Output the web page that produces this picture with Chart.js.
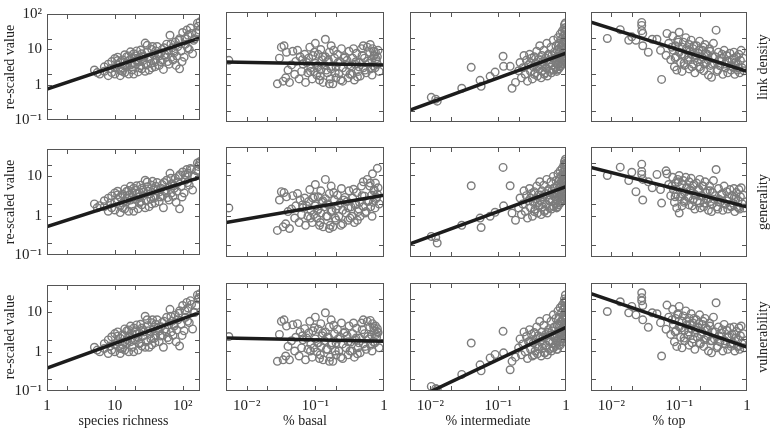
<!DOCTYPE html>
<html>
<head>
<meta charset="utf-8">
<script src="https://cdn.jsdelivr.net/npm/chart.js@4.4.0/dist/chart.umd.min.js"></script>
<style>
html, body { margin: 0; padding: 0; background: #fff; }
#wrap { position: relative; width: 770px; height: 430px; overflow: hidden;
        font-family: 'Liberation Serif', 'DejaVu Serif', serif; color: #222; }
#wrap canvas { position: absolute; }
.lab { position: absolute; white-space: nowrap; font-size: 14px; line-height: 1;
       transform: translate(-50%, -50%); }
.rot { transform: translate(-50%, -50%) rotate(-90deg); }
</style>
</head>
<body>
<div id="wrap"></div>
<script>
// x values, one array per column (shared by the three rows)
const richness = [
  5, 5.5, 6, 7, 7, 8, 8, 8.5, 9, 9,
  10, 10, 10, 11, 11, 12, 12, 12, 13, 13,
  14, 14, 15, 15, 15, 16, 16, 17, 17, 18,
  18, 19, 20, 20, 21, 22, 22, 23, 24, 25,
  25, 26, 27, 28, 29, 30, 30, 32, 33, 35,
  35, 37, 38, 40, 40, 42, 45, 45, 48, 50,
  50, 52, 55, 58, 60, 62, 65, 68, 70, 72,
  75, 78, 80, 85, 90, 90, 95, 100, 105, 110,
  115, 120, 125, 130, 140, 150, 160, 165, 170, 180,
  11, 13, 14, 16, 18, 19, 21, 23, 24, 26,
  28, 31, 34, 36, 39, 43, 47, 53, 57, 63,
  67, 74, 82, 88, 98, 108, 118, 135, 145, 175];
const basal = [
  0.0055, 0.028, 0.03, 0.032, 0.034, 0.035, 0.037, 0.038, 0.04, 0.042,
  0.045, 0.047, 0.05, 0.052, 0.055, 0.058, 0.06, 0.063, 0.066, 0.07,
  0.072, 0.075, 0.078, 0.08, 0.083, 0.086, 0.09, 0.092, 0.095, 0.1,
  0.1, 0.105, 0.11, 0.11, 0.115, 0.12, 0.12, 0.125, 0.13, 0.135,
  0.14, 0.14, 0.15, 0.15, 0.16, 0.16, 0.17, 0.17, 0.18, 0.19,
  0.2, 0.2, 0.21, 0.22, 0.23, 0.24, 0.25, 0.25, 0.27, 0.28,
  0.29, 0.3, 0.31, 0.33, 0.34, 0.35, 0.37, 0.38, 0.4, 0.42,
  0.44, 0.45, 0.47, 0.5, 0.5, 0.52, 0.55, 0.57, 0.6, 0.62,
  0.64, 0.66, 0.68, 0.7, 0.72, 0.75, 0.78, 0.8, 0.82, 0.85,
  0.065, 0.085, 0.097, 0.108, 0.118, 0.128, 0.145, 0.155, 0.165, 0.175,
  0.185, 0.195, 0.215, 0.235, 0.26, 0.3, 0.32, 0.36, 0.39, 0.41,
  0.43, 0.48, 0.53, 0.58, 0.63, 0.67, 0.71, 0.74, 0.77, 0.8];
const intermediate = [
  0.0103, 0.012, 0.0126, 0.029, 0.04, 0.054, 0.056, 0.076, 0.09, 0.118,
  0.12, 0.15, 0.16, 0.18, 0.2, 0.21, 0.22, 0.23, 0.24, 0.25,
  0.26, 0.27, 0.28, 0.29, 0.3, 0.31, 0.32, 0.33, 0.34, 0.35,
  0.36, 0.37, 0.38, 0.39, 0.4, 0.41, 0.42, 0.43, 0.44, 0.45,
  0.46, 0.47, 0.48, 0.5, 0.51, 0.52, 0.53, 0.55, 0.56, 0.57,
  0.58, 0.6, 0.61, 0.62, 0.63, 0.65, 0.66, 0.67, 0.68, 0.7,
  0.71, 0.72, 0.73, 0.74, 0.75, 0.76, 0.77, 0.78, 0.79, 0.8,
  0.81, 0.82, 0.83, 0.84, 0.85, 0.86, 0.87, 0.88, 0.89, 0.9,
  0.91, 0.92, 0.93, 0.94, 0.95, 0.96, 0.97, 0.98, 0.99, 0.99,
  0.3, 0.34, 0.38, 0.42, 0.45, 0.49, 0.54, 0.59, 0.64, 0.69,
  0.72, 0.75, 0.78, 0.8, 0.82, 0.84, 0.86, 0.88, 0.9, 0.91,
  0.92, 0.93, 0.94, 0.95, 0.96, 0.97, 0.97, 0.98, 0.98, 0.99];
const top_ = [
  0.0087, 0.0135, 0.018, 0.02, 0.023, 0.028, 0.028, 0.028, 0.029, 0.029,
  0.035, 0.04, 0.047, 0.053, 0.055, 0.064, 0.066, 0.07, 0.075, 0.08,
  0.082, 0.085, 0.088, 0.09, 0.092, 0.095, 0.1, 0.1, 0.105, 0.11,
  0.11, 0.115, 0.12, 0.12, 0.125, 0.13, 0.135, 0.14, 0.14, 0.15,
  0.15, 0.16, 0.16, 0.17, 0.17, 0.18, 0.19, 0.2, 0.2, 0.21,
  0.22, 0.23, 0.24, 0.25, 0.26, 0.27, 0.28, 0.29, 0.3, 0.31,
  0.32, 0.33, 0.35, 0.36, 0.38, 0.4, 0.42, 0.44, 0.46, 0.48,
  0.5, 0.52, 0.54, 0.56, 0.58, 0.6, 0.62, 0.64, 0.66, 0.68,
  0.7, 0.72, 0.74, 0.76, 0.78, 0.8, 0.82, 0.85, 0.88, 0.9,
  0.078, 0.087, 0.097, 0.108, 0.118, 0.128, 0.138, 0.145, 0.155, 0.165,
  0.175, 0.185, 0.195, 0.205, 0.215, 0.225, 0.235, 0.245, 0.265, 0.285,
  0.305, 0.34, 0.37, 0.39, 0.43, 0.47, 0.51, 0.57, 0.65, 0.75];

// link density (row 1)
const ldRichness = [
  2.6, 2.2, 2.0, 3.2, 2.4, 1.8, 3.8, 2.8, 2.2, 4.5,
  3.0, 5.5, 2.0, 3.6, 6.0, 2.5, 4.3, 1.8, 5.0, 3.0,
  7.0, 2.2, 4.0, 6.2, 3.2, 2.0, 4.8, 8.5, 3.6, 5.5,
  2.6, 7.5, 3.8, 6.5, 9.0, 4.5, 2.3, 5.8, 3.4, 7.5,
  2.8, 4.8, 6.0, 15, 3.6, 8.5, 13, 2.6, 5.5, 10,
  3.0, 7.0, 4.2, 9.0, 5.0, 12, 6.5, 3.5, 8, 10,
  5, 2.7, 7, 14, 4.5, 9, 25, 6, 11, 5,
  8, 16, 3.5, 12, 2.8, 20, 9, 30, 6, 14,
  35, 25, 10, 40, 7.5, 20, 30, 55, 45, 60,
  4.8, 2.4, 3.4, 6.5, 4.0, 2.0, 5.0, 3.0, 9.5, 6.5,
  2.4, 6.0, 4.0, 12, 3.2, 7.5, 4.5, 11, 6, 3.8,
  14, 9, 6.5, 18, 4.5, 20, 11, 28, 18, 35];
const ldBasal = [
  4.8, 1.1, 5.5, 11, 1.3, 12, 1.6, 8, 2.6, 1.2,
  3.6, 8.5, 2.0, 4.5, 9, 1.5, 6, 2.4, 3.8, 7,
  1.2, 4.2, 2.2, 5.5, 11, 3.0, 1.5, 6.5, 2.4, 4.0,
  14, 1.9, 7, 3.2, 1.4, 9.5, 2.6, 5, 1.2, 3.6,
  18, 6, 2.2, 4.4, 1.1, 8, 2.8, 12, 1.1, 5.5,
  3.2, 1.6, 7, 2.1, 4.5, 10, 1.3, 3.0, 6, 2.4,
  4.8, 1.6, 8.5, 3.4, 2.0, 5.5, 1.4, 3.8, 7.5, 2.4,
  4.2, 1.8, 10, 3.0, 12, 5.5, 2.2, 11, 4.0, 8,
  2.8, 5.0, 10, 3.4, 6.5, 8, 4.5, 3.8, 9, 2.4,
  5, 2.4, 8, 3.5, 1.8, 6, 2.6, 4.8, 1.5, 3.3,
  9, 2.2, 4.2, 1.4, 5.5, 3.6, 2.0, 10, 4.4, 1.7,
  3.2, 6.5, 2.6, 4.6, 13, 1.9, 8.5, 3.0, 5.2, 6];
const ldIntermediate = [
  0.47, 0.42, 0.37, 0.83, 3.1, 1.37, 0.94, 1.76, 2.3, 6.2,
  3.3, 3.3, 0.83, 1.2, 2.5, 4.2, 1.6, 3.0, 6.5, 2.0,
  4.8, 1.3, 3.6, 7.0, 2.4, 5.5, 1.5, 3.2, 6.0, 2.2,
  4.0, 8.5, 1.8, 5.0, 2.8, 12, 3.6, 1.6, 6.5, 2.5,
  4.5, 9, 2.0, 5.5, 3.0, 14, 1.8, 7, 3.8, 2.4,
  5.0, 11, 2.2, 6.5, 3.6, 17, 2.6, 8, 4.5, 3.0,
  12, 5.5, 2.4, 9, 3.8, 20, 6, 2.8, 14, 4.5,
  8, 25, 3.4, 11, 5.5, 18, 7, 30, 4.0, 13,
  22, 6, 35, 9, 45, 15, 28, 50, 20, 38,
  4.2, 2.0, 3.2, 5.0, 3.5, 2.2, 6.5, 4.0, 2.7, 5.5,
  4.0, 2.6, 9.5, 6.0, 3.2, 4.4, 12, 5.5, 8, 3.8,
  16, 11, 4.6, 6.5, 24, 10, 5.0, 32, 14, 8];
const ldTop = [
  19, 33, 17, 21, 17, 52, 43, 31, 26, 12,
  8, 18, 18, 9, 1.45, 6.6, 26, 14, 5, 22,
  9, 3.2, 12, 6, 2.6, 17, 8, 28, 4.2, 11,
  2.4, 15, 6.5, 3.5, 20, 9, 4.8, 13, 2.8, 7,
  17, 3.8, 10, 5.5, 2.2, 12, 7.5, 3.2, 16, 5,
  9, 2.5, 13, 4.2, 7, 1.9, 10, 3.5, 1.65, 6,
  14, 4.0, 32, 2.4, 8, 3.4, 5.5, 2.0, 9, 3.0,
  6.5, 2.2, 4.5, 7.5, 2.6, 5, 3.2, 8, 2.0, 4.2,
  6, 2.6, 3.6, 7, 2.2, 4.8, 9, 3.0, 5.5, 2.5,
  11, 5.5, 15, 7, 4.0, 10, 5.8, 8.5, 3.2, 12,
  6.5, 4.4, 9, 2.8, 6, 11, 3.8, 7.5, 5.0, 8.5,
  3.8, 6, 2.6, 4.8, 7, 3.8, 4.6, 3.4, 5.5, 3.0];

// generality (row 2)
const genRichness = [
  2.0, 1.6, 1.8, 2.4, 1.7, 1.3, 2.8, 2.1, 1.6, 3.2,
  2.2, 3.8, 1.4, 2.6, 4.2, 1.8, 3.0, 1.2, 3.5, 2.1,
  4.8, 1.5, 2.8, 4.2, 2.3, 1.3, 3.3, 5.6, 2.5, 3.8,
  1.8, 5.0, 2.6, 4.4, 5.8, 3.0, 1.5, 3.9, 2.3, 5.0,
  1.9, 3.2, 4.0, 8.0, 2.4, 5.5, 7.2, 1.7, 3.6, 6.0,
  2.0, 4.5, 2.8, 5.6, 3.2, 7.0, 4.0, 2.3, 5.0, 6.2,
  3.2, 1.6, 4.4, 8.0, 2.9, 5.5, 12, 3.8, 6.5, 3.1,
  5.0, 9.0, 2.2, 7.0, 1.5, 11, 5.5, 13, 3.8, 8.0,
  15, 12, 6.0, 16, 4.5, 10, 14, 22, 18, 24,
  3.4, 1.6, 2.4, 4.4, 2.9, 1.3, 3.6, 2.1, 6.0, 4.5,
  1.6, 4.2, 2.7, 7.5, 2.1, 4.8, 3.0, 7.0, 3.9, 2.5,
  9.0, 5.8, 4.2, 10, 3.0, 11, 7.0, 15, 10, 20];
const genBasal = [
  1.6, 0.45, 2.5, 4.0, 0.55, 3.8, 0.65, 3.0, 1.3, 0.5,
  1.5, 3.2, 0.9, 1.8, 3.6, 0.7, 2.5, 1.1, 1.6, 2.8,
  0.6, 1.8, 1.0, 2.3, 4.5, 1.4, 0.7, 2.8, 1.1, 1.8,
  6, 0.9, 3.0, 1.5, 0.6, 4.2, 1.2, 2.2, 0.55, 1.7,
  8, 2.7, 1.0, 2.0, 0.5, 3.6, 1.3, 5.5, 0.55, 2.5,
  1.5, 0.8, 3.3, 1.0, 2.1, 4.8, 0.65, 1.4, 2.9, 1.2,
  2.3, 0.8, 4.2, 1.7, 1.0, 2.8, 0.7, 1.9, 3.8, 1.3,
  2.2, 1.0, 5.5, 1.7, 7, 3.1, 1.3, 8, 2.4, 5.5,
  1.7, 3.3, 11, 2.2, 4.5, 6.5, 2.9, 15, 5, 2.0,
  1.9, 0.9, 3.0, 1.4, 0.7, 2.4, 1.0, 1.9, 0.6, 1.4,
  3.8, 0.9, 1.8, 0.6, 2.5, 1.6, 0.9, 4.6, 2.0, 0.8,
  1.5, 3.2, 1.2, 2.3, 6.5, 1.0, 4.2, 1.6, 2.7, 3.5];
const genIntermediate = [
  0.32, 0.3, 0.22, 0.6, 5.6, 0.9, 0.53, 1.0, 1.25, 15.8,
  1.8, 5.6, 1.2, 0.8, 1.6, 2.8, 1.1, 2.0, 4.2, 1.3,
  3.2, 0.9, 2.4, 4.8, 1.6, 3.6, 1.0, 2.2, 4.0, 1.5,
  2.7, 5.5, 1.2, 3.3, 1.9, 7, 2.4, 1.1, 4.2, 1.7,
  3.0, 5.8, 1.3, 3.6, 2.0, 8, 1.2, 4.5, 2.5, 1.6,
  3.3, 7, 1.5, 4.2, 2.4, 9.5, 1.7, 5.0, 3.0, 2.0,
  7.5, 3.6, 1.6, 5.5, 2.5, 11, 3.9, 1.9, 8, 3.0,
  5.0, 13, 2.3, 6.5, 3.6, 10, 4.5, 15, 2.7, 7.5,
  12, 4.0, 18, 5.5, 22, 8.5, 14, 25, 11, 19,
  2.8, 1.3, 2.1, 3.3, 2.2, 1.4, 4.2, 2.6, 1.8, 3.6,
  2.6, 1.7, 6.0, 4.0, 2.1, 2.9, 7.5, 3.6, 5.2, 2.5,
  10, 7, 3.0, 4.2, 16, 6.5, 3.2, 20, 9, 5.2];
const genTop = [
  10, 16, 7.5, 12, 4, 19, 12.6, 10.6, 2.5, 8,
  7, 5, 10.6, 4.5, 2.1, 13, 11, 6, 3.2, 9,
  4.5, 2.2, 6.5, 3.5, 1.6, 8, 1.2, 10, 3.0, 6,
  1.8, 7.5, 3.8, 2.4, 9, 5, 2.9, 7, 1.9, 4.2,
  8.5, 2.5, 5.5, 3.4, 1.5, 6.5, 4.4, 2.1, 8, 3.2,
  5.5, 1.7, 7, 2.7, 4.2, 1.4, 5.5, 2.3, 1.3, 3.8,
  7.5, 2.6, 14, 1.7, 4.8, 2.2, 3.4, 1.4, 5.5, 2.0,
  4.0, 1.5, 2.9, 4.5, 1.7, 3.2, 2.1, 4.8, 1.3, 2.7,
  3.8, 1.7, 2.4, 4.5, 1.5, 3.0, 5, 2.0, 3.3, 1.6,
  5.5, 3.0, 7, 3.6, 2.2, 5.0, 3.0, 4.4, 1.8, 6,
  3.3, 2.4, 4.6, 1.6, 3.1, 5.5, 2.1, 3.8, 2.6, 4.2,
  2.0, 3.2, 1.5, 2.6, 3.6, 2.0, 2.4, 1.8, 2.9, 1.6];

// vulnerability (row 3)
const vulRichness = [
  1.3, 1.1, 1.0, 1.6, 1.2, 0.9, 2.0, 1.4, 1.1, 2.4,
  1.5, 2.9, 1.0, 1.8, 3.2, 1.2, 2.2, 0.9, 2.7, 1.5,
  3.8, 1.1, 2.0, 3.4, 1.6, 1.0, 2.5, 4.5, 1.8, 2.9,
  1.3, 4.0, 2.0, 3.4, 4.8, 2.3, 1.1, 3.0, 1.7, 4.0,
  1.4, 2.5, 3.2, 8.0, 1.8, 4.6, 6.5, 1.3, 2.9, 5.5,
  1.5, 3.8, 2.2, 5.0, 2.6, 6.5, 3.4, 1.8, 4.3, 5.6,
  2.6, 1.3, 3.8, 7.5, 2.3, 4.8, 12, 3.2, 6.0, 2.6,
  4.5, 8.5, 1.8, 6.5, 1.4, 11, 5.0, 15, 3.4, 7.5,
  18, 13, 5.5, 20, 3.8, 10, 15, 28, 22, 30,
  2.5, 1.2, 1.8, 3.6, 2.2, 1.0, 2.8, 1.6, 5.0, 3.6,
  1.3, 3.4, 2.1, 6.5, 1.7, 4.0, 2.5, 6.0, 3.2, 2.0,
  8.0, 5.0, 3.6, 9.5, 2.6, 11, 6.0, 16, 10, 24];
const vulBasal = [
  2.3, 0.55, 2.6, 5.5, 0.6, 6, 0.75, 4.2, 1.3, 0.6,
  1.8, 4.5, 1.0, 2.2, 4.8, 0.75, 3.0, 1.2, 1.9, 3.6,
  0.6, 2.1, 1.1, 2.8, 5.5, 1.5, 0.7, 3.2, 1.2, 2.0,
  7, 0.95, 3.5, 1.6, 0.65, 4.8, 1.3, 2.4, 0.6, 1.8,
  9, 3.0, 1.1, 2.2, 0.55, 4.0, 1.4, 6, 0.55, 2.7,
  1.6, 0.8, 3.5, 1.0, 2.2, 5, 0.65, 1.5, 3.0, 1.2,
  2.4, 0.8, 4.2, 1.7, 1.0, 2.7, 0.7, 1.9, 3.7, 1.2,
  2.1, 0.9, 5, 1.5, 6, 2.7, 1.1, 5.5, 2.0, 4.0,
  1.4, 2.5, 4.8, 1.7, 3.2, 4.2, 2.2, 3.6, 2.9, 1.2,
  2.4, 1.0, 3.8, 1.6, 0.8, 2.8, 1.1, 2.2, 0.7, 1.6,
  4.4, 1.0, 2.0, 0.7, 2.8, 1.7, 1.0, 5.0, 2.1, 0.85,
  1.6, 3.4, 1.3, 2.3, 5.8, 1.0, 3.8, 1.6, 2.6, 3.0];
const vulIntermediate = [
  0.13, 0.115, 0.11, 0.26, 1.58, 0.45, 0.32, 0.67, 0.82, 3.1,
  0.9, 0.34, 0.55, 0.7, 1.2, 2.0, 0.8, 1.5, 3.0, 0.95,
  2.3, 0.65, 1.7, 3.4, 1.1, 2.6, 0.75, 1.6, 2.9, 1.0,
  2.0, 4.0, 0.85, 2.4, 1.3, 5.5, 1.7, 0.75, 3.0, 1.2,
  2.2, 4.4, 0.9, 2.6, 1.4, 6.5, 0.8, 3.4, 1.8, 1.1,
  2.5, 5.5, 1.0, 3.2, 1.6, 8, 1.2, 4.0, 2.1, 1.4,
  6.5, 2.7, 1.1, 4.5, 1.8, 10, 3.0, 1.4, 7, 2.2,
  4.2, 12, 1.7, 5.5, 2.8, 9, 3.6, 14, 2.0, 6.5,
  11, 3.2, 16, 4.5, 20, 7, 12, 25, 9, 18,
  1.8, 0.8, 1.3, 2.2, 1.5, 0.9, 2.9, 1.7, 1.2, 2.4,
  1.8, 1.1, 4.5, 2.8, 1.4, 2.0, 5.5, 2.6, 3.8, 1.7,
  7.5, 5.0, 2.1, 3.0, 12, 4.6, 2.3, 16, 6.5, 3.8];
const vulTop = [
  9.7, 17, 9, 13, 8, 28.5, 21.5, 18, 13.7, 6,
  3.9, 9, 8.5, 5.1, 0.75, 3.5, 14, 7, 2.6, 11,
  4.6, 1.7, 6.5, 3.2, 1.3, 8.5, 4.0, 13, 2.2, 5.5,
  1.2, 7.5, 3.3, 1.8, 10, 4.5, 2.5, 6.5, 1.4, 3.6,
  8.5, 2.0, 5.0, 2.8, 1.1, 6, 3.8, 1.6, 8, 2.6,
  4.6, 1.3, 6.5, 2.1, 3.5, 1.0, 5, 1.8, 0.9, 3.0,
  7, 2.0, 16, 1.2, 4.0, 1.7, 2.8, 1.0, 4.6, 1.5,
  3.3, 1.1, 2.3, 3.8, 1.3, 2.6, 1.6, 4.0, 1.0, 2.1,
  3.1, 1.3, 1.9, 3.8, 1.1, 2.4, 4.2, 1.5, 2.7, 1.2,
  6, 3.0, 8, 3.8, 2.1, 5.5, 3.0, 4.6, 1.6, 6.5,
  3.4, 2.2, 4.8, 1.5, 3.0, 5.5, 1.9, 3.8, 2.4, 4.2,
  1.8, 3.0, 1.3, 2.4, 3.4, 1.8, 2.2, 1.5, 2.6, 1.3];

// fitted line: value at left and right end of each panel
const fitLinkDensity = [[0.75, 21], [4.3, 3.6], [0.21, 7.6], [53, 2.4]];
const fitGenerality = [[0.53, 9.4], [0.7, 3.3], [0.21, 5.3], [15.8, 1.7]];
const fitVulnerability = [[0.38, 10], [2.1, 1.76], [0.055, 3.9], [27, 1.25]];

// axes
const xTitles = ['species richness', '% basal', '% intermediate', '% top'];
const rowTitles = ['link density', 'generality', 'vulnerability'];
const xMin = [1, 0.005, 0.005, 0.005];
const xMax = [180, 1, 1, 1];
const xLabelsRichness = [1, 10, 100];
const xLabelsPercent = [0.01, 0.1, 1];
const xMarksRichness = [2, 10, 20, 100];
const xMarksPercent = [0.01, 0.02, 0.1, 0.2];
const yMax = [100, 50, 50];
const yLabelsTop = [0.1, 1, 10, 100];
const yLabels = [0.1, 1, 10];
const yMarks = [0.2, 1, 2, 10, 20];

const colX = [richness, basal, intermediate, top_];
const rowY = [
  [ldRichness, ldBasal, ldIntermediate, ldTop],
  [genRichness, genBasal, genIntermediate, genTop],
  [vulRichness, vulBasal, vulIntermediate, vulTop]];
const fits = [fitLinkDensity, fitGenerality, fitVulnerability];

// panel boxes on the page
const L = [47, 226, 410, 591], R = [200, 384, 566, 747];
const T = [12, 147, 283], B = [122, 257, 391];

const SERIF = "'Liberation Serif', 'DejaVu Serif', serif";
const powLabel = {'-2': '10⁻²', '-1': '10⁻¹', '0': '1', '1': '10', '2': '10²'};
const fmt = v => powLabel[Math.round(Math.log10(v))];

// frame + inward tick marks on all four sides
const framePlugin = {
  id: 'frame',
  afterDraw(chart) {
    const {ctx, chartArea: a, scales: {x, y}} = chart;
    const o = chart.options.plugins.frame;
    ctx.save();
    ctx.strokeStyle = '#555';
    ctx.lineWidth = 1;
    ctx.strokeRect(a.left + 0.5, a.top + 0.5, a.right - a.left - 1, a.bottom - a.top - 1);
    ctx.beginPath();
    o.xMarks.forEach(v => {
      const p = Math.round(x.getPixelForValue(v)) + 0.5;
      ctx.moveTo(p, a.bottom); ctx.lineTo(p, a.bottom - 5);
      ctx.moveTo(p, a.top); ctx.lineTo(p, a.top + 5);
    });
    o.yMarks.forEach(v => {
      const p = Math.round(y.getPixelForValue(v)) + 0.5;
      ctx.moveTo(a.left, p); ctx.lineTo(a.left + 5, p);
      ctx.moveTo(a.right, p); ctx.lineTo(a.right - 5, p);
    });
    ctx.stroke();
    ctx.restore();
  }
};

const wrap = document.getElementById('wrap');

for (let r = 0; r < 3; r++) {
  for (let c = 0; c < 4; c++) {
    const padL = c === 0 ? 7 : 12, yW = c === 0 ? 40 : 0;
    const xH = r === 2 ? 28 : 0, padB = r === 2 ? 4 : 12;
    const w = padL + yW + (R[c] - L[c]) + 12;
    const h = 12 + (B[r] - T[r]) + xH + padB;
    const cv = document.createElement('canvas');
    cv.width = w; cv.height = h;
    cv.style.left = (L[c] - padL - yW) + 'px';
    cv.style.top = (T[r] - 12) + 'px';
    wrap.appendChild(cv);

    const xs = colX[c], ys = rowY[r][c], f = fits[r][c];
    const pts = xs.map((x, i) => ({x: x, y: ys[i]}));
    const xLab = c === 0 ? xLabelsRichness : xLabelsPercent;
    const yLab = r === 0 ? yLabelsTop : yLabels;

    new Chart(cv.getContext('2d'), {
      type: 'scatter',
      data: {
        datasets: [{
          data: [{x: xMin[c], y: f[0]}, {x: xMax[c], y: f[1]}],
          showLine: true,
          borderColor: '#1c1c1c',
          borderWidth: 3.5,
          pointRadius: 0,
          clip: 0,
          order: 0
        }, {
          data: pts,
          pointRadius: 3.8,
          pointBorderWidth: 1.4,
          borderColor: '#7c7c7c',
          backgroundColor: 'rgba(0,0,0,0)',
          order: 1
        }]
      },
      options: {
        responsive: false,
        animation: false,
        events: [],
        layout: {padding: {left: padL, top: 12, right: 12, bottom: padB}},
        plugins: {
          legend: {display: false},
          tooltip: {enabled: false},
          frame: {xMarks: c === 0 ? xMarksRichness : xMarksPercent, yMarks: yMarks}
        },
        scales: {
          x: {
            type: 'logarithmic',
            min: xMin[c], max: xMax[c],
            display: r === 2,
            grid: {display: false, drawTicks: false},
            border: {display: false},
            ticks: {autoSkip: false, maxRotation: 0, padding: 6, color: '#222',
                    font: {family: SERIF, size: 15}, callback: fmt},
            afterBuildTicks: s => { s.ticks = xLab.map(v => ({value: v})); },
            afterFit: s => { s.height = xH; }
          },
          y: {
            type: 'logarithmic',
            min: 0.1, max: yMax[r],
            display: c === 0,
            grid: {display: false, drawTicks: false},
            border: {display: false},
            ticks: {autoSkip: false, padding: 5, color: '#222',
                    font: {family: SERIF, size: 15}, callback: fmt},
            afterBuildTicks: s => { s.ticks = yLab.map(v => ({value: v})); },
            afterFit: s => { s.width = yW; }
          }
        }
      },
      plugins: [framePlugin]
    });
  }
}

// titles
function addLabel(text, x, y, rotated) {
  const d = document.createElement('div');
  d.className = rotated ? 'lab rot' : 'lab';
  d.textContent = text;
  d.style.left = x + 'px';
  d.style.top = y + 'px';
  wrap.appendChild(d);
}
for (let c = 0; c < 4; c++) addLabel(xTitles[c], (L[c] + R[c]) / 2, 421, false);
for (let r = 0; r < 3; r++) {
  addLabel('re-scaled value', 10, (T[r] + B[r]) / 2, true);
  addLabel(rowTitles[r], 763, (T[r] + B[r]) / 2, true);
}
</script>
</body>
</html>
